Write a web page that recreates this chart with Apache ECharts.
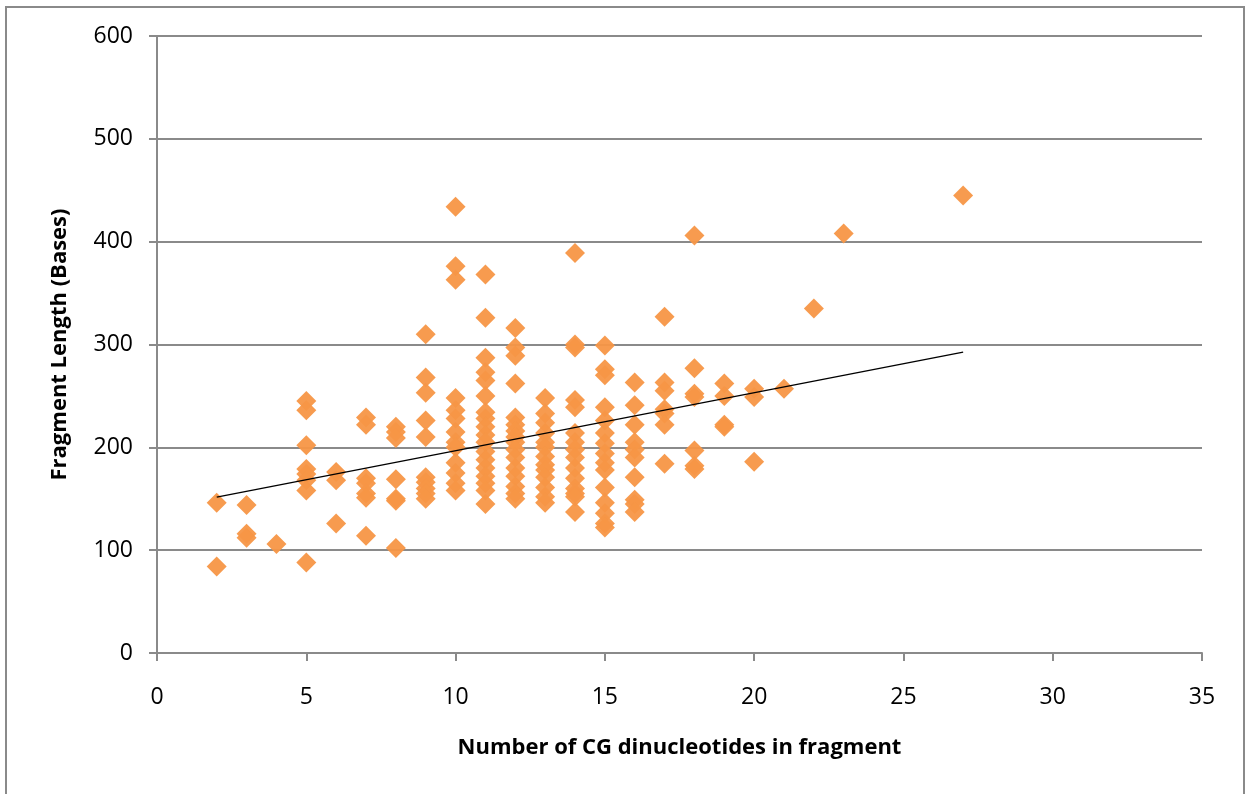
<!DOCTYPE html>
<html>
<head>
<meta charset="utf-8">
<script src="https://cdn.jsdelivr.net/npm/echarts@6/dist/echarts.min.js"></script>
<style>
  html, body { margin: 0; padding: 0; background: #ffffff; }
  #chart { width: 1248px; height: 794px; }
</style>
</head>
<body>
<div id="chart"></div>
<script>
// CG dinucleotide count per fragment, and the fragment lengths observed at each count
const cgCounts = [2, 3, 4, 5, 6, 7, 8, 9, 10, 11, 12, 13, 14, 15, 16, 17, 18, 19, 20, 21, 22, 23, 27];
const lengthsAt2 = [146, 84];
const lengthsAt3 = [144, 116, 112];
const lengthsAt4 = [106];
const lengthsAt5 = [245, 236, 202, 179, 174, 168, 158, 88];
const lengthsAt6 = [176, 168, 126];
const lengthsAt7 = [229, 222, 170, 165, 155, 151, 114];
const lengthsAt8 = [220, 215, 209, 169, 150, 148, 102];
const lengthsAt9 = [310, 268, 253, 226, 210, 171, 166, 160, 155, 150];
const lengthsAt10 = [434, 376, 363, 248, 236, 228, 215, 205, 200, 185, 175, 165, 158];
const lengthsAt11 = [368, 326, 287, 273, 265, 250, 234, 228, 220, 212, 205, 196, 188, 180, 172, 165, 158, 145];
const lengthsAt12 = [316, 297, 289, 262, 229, 222, 216, 210, 205, 198, 190, 180, 172, 162, 155, 150];
const lengthsAt13 = [248, 233, 224, 214, 205, 200, 191, 183, 178, 171, 161, 152, 146];
const lengthsAt14 = [389, 300, 297, 246, 239, 214, 205, 198, 190, 180, 170, 160, 155, 152, 137];
const lengthsAt15 = [299, 276, 270, 239, 226, 214, 204, 194, 185, 178, 161, 146, 136, 126, 122];
const lengthsAt16 = [263, 241, 222, 205, 198, 190, 171, 149, 145, 137];
const lengthsAt17 = [327, 263, 255, 237, 233, 222, 184];
const lengthsAt18 = [406, 277, 252, 249, 197, 182, 179];
const lengthsAt19 = [262, 250, 222, 220];
const lengthsAt20 = [257, 249, 186];
const lengthsAt21 = [257];
const lengthsAt22 = [335];
const lengthsAt23 = [408];
const lengthsAt27 = [445];

const lengthGroups = [
  lengthsAt2, lengthsAt3, lengthsAt4, lengthsAt5, lengthsAt6, lengthsAt7, lengthsAt8,
  lengthsAt9, lengthsAt10, lengthsAt11, lengthsAt12, lengthsAt13, lengthsAt14, lengthsAt15,
  lengthsAt16, lengthsAt17, lengthsAt18, lengthsAt19, lengthsAt20, lengthsAt21, lengthsAt22,
  lengthsAt23, lengthsAt27
];

// linear trendline: length = trendSlope * cgCount + trendIntercept
const trendSlope = 5.64;
const trendIntercept = 140.3;

const xTicks = { min: 0, max: 35, step: 5 };
const yTicks = { min: 0, max: 600, step: 100 };

// flatten into [cgCount, length] pairs
const points = [];
cgCounts.forEach((cg, i) => {
  lengthGroups[i].forEach(len => points.push([cg, len]));
});

// trendline spans the observed range of CG counts
const xLo = Math.min(...cgCounts);
const xHi = Math.max(...cgCounts);
const trend = [xLo, xHi].map(x => [x, trendIntercept + trendSlope * x]);

const gray = '#8a8a8a';
const font = '"Open Sans", "Liberation Sans", sans-serif';

const chart = echarts.init(document.getElementById('chart'), null, { renderer: 'canvas' });
chart.setOption({
  animation: false,
  backgroundColor: '#ffffff',
  graphic: [{
    type: 'rect',
    shape: { x: 6, y: 7, width: 1238, height: 800 },
    style: { fill: 'none', stroke: gray, lineWidth: 2 },
    silent: true
  }],
  grid: { left: 157, right: 46, top: 36, bottom: 141, containLabel: false },
  xAxis: {
    type: 'value',
    min: xTicks.min, max: xTicks.max, interval: xTicks.step,
    name: 'Number of CG dinucleotides in fragment',
    nameLocation: 'middle',
    nameGap: 84,
    nameTextStyle: { fontFamily: font, fontWeight: 'bold', fontSize: 22, color: '#000' },
    axisLine: { show: true, onZero: false, lineStyle: { color: gray, width: 2 } },
    axisTick: { show: true, length: 8, lineStyle: { color: gray, width: 2 } },
    axisLabel: { margin: 33, fontFamily: font, fontSize: 23, color: '#000' },
    splitLine: { show: false }
  },
  yAxis: {
    type: 'value',
    min: yTicks.min, max: yTicks.max, interval: yTicks.step,
    name: 'Fragment Length (Bases)',
    nameLocation: 'middle',
    nameGap: 86,
    nameRotate: 90,
    nameTextStyle: { fontFamily: font, fontWeight: 'bold', fontSize: 22, color: '#000' },
    axisLine: { show: true, lineStyle: { color: gray, width: 2 } },
    axisTick: { show: true, length: 8, lineStyle: { color: gray, width: 2 } },
    axisLabel: { margin: 24, fontFamily: font, fontSize: 23, color: '#000' },
    splitLine: { show: true, lineStyle: { color: gray, width: 2 } }
  },
  series: [
    {
      type: 'scatter',
      data: points,
      symbol: 'diamond',
      symbolSize: [20, 20],
      itemStyle: { color: '#F79646', opacity: 0.95 },
      z: 2
    },
    {
      type: 'line',
      data: trend,
      symbol: 'none',
      lineStyle: { color: '#000', width: 1.5 },
      z: 3
    }
  ]
});
</script>
</body>
</html>
